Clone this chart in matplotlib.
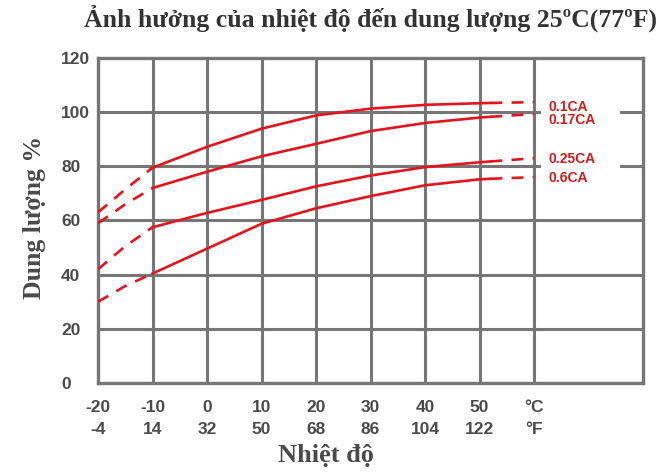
import matplotlib
matplotlib.use("Agg")
import matplotlib.pyplot as plt
from matplotlib.patches import Rectangle

# temperature points (degC) for the solid part of each curve
tempSolid = [-10, 0, 10, 20, 30, 40, 50, 52]
# dashed extrapolation at low and high temperature
tempLow = [-20, -15, -10]
tempHigh = [52, 60]

rates = ["0.1CA", "0.17CA", "0.25CA", "0.6CA"]
capSolid = {
    "0.1CA": [79.5, 87.2, 93.9, 98.8, 101.3, 102.7, 103.3, 103.4],
    "0.17CA": [72.0, 78.0, 83.7, 88.3, 93.0, 96.0, 98.0, 98.3],
    "0.25CA": [57.5, 62.8, 67.6, 72.6, 76.6, 79.7, 81.5, 81.8],
    "0.6CA": [40.4, 49.6, 58.8, 64.5, 69.0, 73.0, 75.2, 75.4],
}
capLow = {
    "0.1CA": [63.0, 71.5, 79.5],
    "0.17CA": [59.0, 66.0, 72.0],
    "0.25CA": [42.0, 50.5, 57.5],
    "0.6CA": [30.0, 35.8, 40.4],
}
capHigh = {
    "0.1CA": [103.4, 103.7],
    "0.17CA": [98.3, 99.3],
    "0.25CA": [81.8, 83.0],
    "0.6CA": [75.4, 76.0],
}
labelY = {"0.1CA": 102.0, "0.17CA": 97.1, "0.25CA": 82.7, "0.6CA": 75.7}

xTicks = [-20, -10, 0, 10, 20, 30, 40, 50, 60]
xTickC = ["-20", "-10", "0", "10", "20", "30", "40", "50", "°C"]
xTickF = ["-4", "14", "32", "50", "68", "86", "104", "122", "°F"]
yTicks = [0, 20, 40, 60, 80, 100, 120]

gridColor = "#767676"
textGray = "#4a4a4a"
lineRed = "#e3141e"
labelRed = "#d01c1c"

fig = plt.figure(figsize=(6.68, 4.73), dpi=100)
ax = fig.add_axes([0.1467, 0.1903, 0.816, 0.6871])

for r in rates:
    ax.plot(tempSolid, capSolid[r], color=lineRed, linewidth=1.9, zorder=3)
    ax.plot(tempLow, capLow[r], color=lineRed, linewidth=1.9, dashes=(4.5, 3.5), zorder=3)
    ax.plot(tempHigh, capHigh[r], color=lineRed, linewidth=1.9, dashes=(4.5, 3.5), zorder=3)
    ax.text(62.6, labelY[r], r, color=labelRed, fontsize=10, fontweight="bold",
            family="Liberation Sans", ha="left", va="center", zorder=5)

# white patches behind the labels that break the grid lines
ax.add_patch(Rectangle((61.3, 98.0), 14.5, 4.0, facecolor="white", edgecolor="none", zorder=2))
ax.add_patch(Rectangle((61.3, 78.0), 14.5, 4.0, facecolor="white", edgecolor="none", zorder=2))

ax.set_xlim(-20, 80)
ax.set_ylim(0, 120)
ax.set_xticks(xTicks)
ax.set_xticklabels([c + "\n" + f for c, f in zip(xTickC, xTickF)], linespacing=1.6)
ax.set_yticks(yTicks)
ax.set_yticklabels([str(v) for v in yTicks], ha="left")
ax.tick_params(axis="both", length=0, colors=textGray, labelsize=12.5)
ax.tick_params(axis="y", pad=26.5)
ax.tick_params(axis="x", pad=12)
for lab in ax.get_xticklabels() + ax.get_yticklabels():
    lab.set_fontweight("bold")
    lab.set_family("Liberation Sans")

ax.grid(True, color=gridColor, linewidth=2.2)
ax.set_axisbelow(True)
for s in ax.spines.values():
    s.set_color(gridColor)
    s.set_linewidth(2.4)

fig.text(0.555, 0.962, "Ảnh hưởng của nhiệt độ đến dung lượng 25ºC(77ºF)", ha="center", va="center",
         fontsize=18.5, fontweight="bold", family="Liberation Serif", color="#333333")
fig.text(0.488, 0.036, "Nhiệt độ", ha="center", va="center",
         fontsize=19, fontweight="bold", family="Liberation Serif", color=textGray)
fig.text(0.052, 0.541, "Dung lượng %", ha="center", va="center", rotation=90,
         fontsize=18.5, fontweight="bold", family="Liberation Serif", color=textGray)

fig.savefig("out.png", dpi=100)
